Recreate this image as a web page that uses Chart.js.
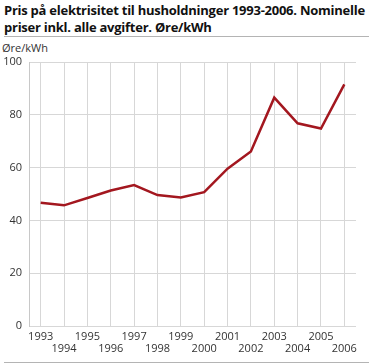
<!DOCTYPE html>
<html>
<head>
<meta charset="utf-8">
<script src="https://cdn.jsdelivr.net/npm/chart.js@4/dist/chart.umd.min.js"></script>
<style>
  html, body { margin: 0; padding: 0; background: #fff; }
  body { width: 372px; height: 364px; position: relative; overflow: hidden; font-family: "Open Sans", sans-serif; }
  #title { position: absolute; left: 4px; top: 2px; font-size: 13px; font-weight: bold; line-height: 17px; color: #111; letter-spacing: -0.25px; white-space: nowrap; }
  .rule { position: absolute; left: 4px; width: 365px; height: 1px; background: #b4b4b4; }
  #unit { position: absolute; left: 2px; top: 40px; font-size: 11px; color: #333; }
  #wrap { position: absolute; left: 0; top: 0; width: 372px; height: 364px; }
</style>
</head>
<body>
<div id="title">Pris på elektrisitet til husholdninger 1993-2006. Nominelle<br>priser inkl. alle avgifter. Øre/kWh</div>
<div class="rule" style="top:36px"></div>
<div id="unit">Øre/kWh</div>
<div id="wrap"><canvas id="chart" width="372" height="364"></canvas></div>
<div class="rule" style="top:362px"></div>
<script>
  // Years on the x axis, price in øre/kWh.
  const years = [ '1993', '1994', '1995', '1996', '1997', '1998', '1999', '2000', '2001', '2002', '2003', '2004', '2005', '2006' ];
  const prices = [ 46.7, 45.7, 48.5, 51.3, 53.4, 49.6, 48.7, 50.7, 59.6, 66.1, 86.5, 76.8, 74.8, 91.5 ];
  const yTicks = [ 0, 20, 40, 60, 80, 100 ];

  const GRID = '#d7d7d7';
  const TEXT = '#333';

  new Chart( document.getElementById( 'chart' ), {
    type: 'line',
    data: {
      labels: years,
      datasets: [ {
        data: prices,
        borderColor: '#a3171f',
        borderWidth: 2.5,
        pointRadius: 0,
        tension: 0,
        fill: false,
      } ],
    },
    options: {
      responsive: false,
      animation: false,
      layout: { padding: { top: 62, right: 16, bottom: 10, left: 0 } },
      plugins: { legend: { display: false }, tooltip: { enabled: false } },
      scales: {
        x: {
          offset: true,
          grid: { color: GRID, drawTicks: false, offset: false },
          border: { display: false },
          ticks: {
            color: TEXT,
            font: { family: 'Open Sans', size: 11, lineHeight: 1.1 },
            padding: 5,
            maxRotation: 0,
            autoSkip: false,
            // alternate labels between two rows
            callback: ( v, i ) => ( i % 2 === 0 ? years[ i ] : [ '', years[ i ] ] ),
          },
          afterFit: ( s ) => { s.height = 28; },
        },
        y: {
          min: 0,
          max: 100,
          afterBuildTicks: ( s ) => { s.ticks = yTicks.map( ( v ) => ( { value: v } ) ); },
          grid: { color: GRID, drawTicks: false },
          border: { display: true, color: '#c8c8c8' },
          ticks: { color: TEXT, font: { family: 'Open Sans', size: 11 }, padding: 7 },
          afterFit: ( s ) => { s.width = 29; },
        },
      },
    },
  } );
</script>
</body>
</html>
